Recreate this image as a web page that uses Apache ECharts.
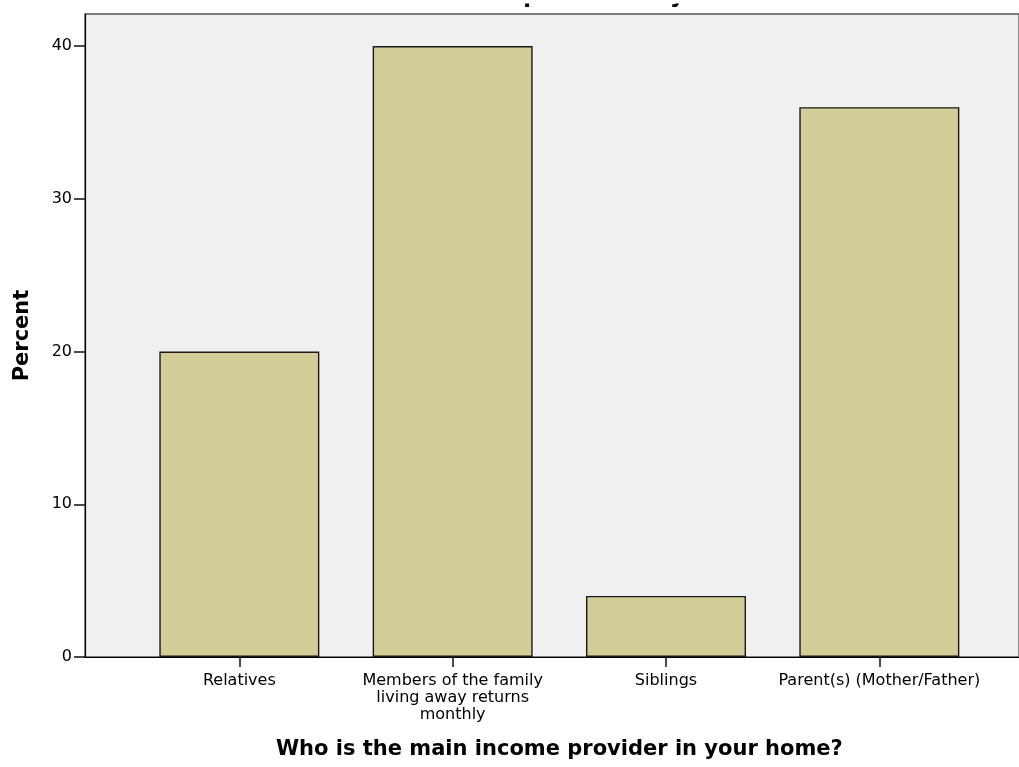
<!DOCTYPE html>
<html>
<head>
<meta charset="utf-8">
<script src="https://cdn.jsdelivr.net/npm/echarts@6/dist/echarts.min.js"></script>
<style>
html,body{margin:0;padding:0;background:#fff;}
#chart{width:1019px;height:767px;}
</style>
</head>
<body>
<div id="chart"></div>
<script>
const categories = ['Relatives', 'Members of the family\nliving away returns\nmonthly', 'Siblings', 'Parent(s) (Mother/Father)'];
const percentValues = [20, 40, 4, 36];
const yTicks = [0, 10, 20, 30, 40];
const chartTitle = 'Who is the main income provider in your home?';
const xAxisTitle = 'Who is the main income provider in your home?';
const yAxisTitle = 'Percent';

const FONT = 'DejaVu Sans';
const YMAX = 42.1;
const chart = echarts.init(document.getElementById('chart'), null, {renderer: 'canvas'});

chart.setOption({
  backgroundColor: '#ffffff',
  animation: false,
  title: {
    text: chartTitle,
    left: 206,
    top: -22,
    textStyle: {fontFamily: FONT, fontWeight: 'bold', fontSize: 22.5, color: '#000', lineHeight: 26}
  },
  graphic: [
    {type: 'rect', left: 0, top: 0, z: 100, shape: {width: 1019, height: 3.5}, style: {fill: '#ffffff'}}
  ],
  grid: [
    {left: 85, top: 14, right: -20, bottom: 110, show: true, backgroundColor: '#f0f0f0', borderColor: '#555', borderWidth: 1.3, containLabel: false},
    {left: 132.67, top: 14, right: 33, bottom: 110, containLabel: false}
  ],
  xAxis: [
    {
      gridIndex: 0, type: 'value', min: 0, max: 1,
      axisLine: {show: true, onZero: false, lineStyle: {color: '#000', width: 1.2}},
      axisTick: {show: false}, axisLabel: {show: false}, splitLine: {show: false}
    },
    {
      gridIndex: 1, type: 'category', data: categories,
      boundaryGap: true,
      axisLine: {show: false},
      axisTick: {show: true, alignWithLabel: true, length: 10, lineStyle: {color: '#111', width: 1.5}},
      axisLabel: {fontFamily: FONT, fontSize: 16, color: '#000', lineHeight: 17, margin: 15, interval: 0},
      name: xAxisTitle,
      nameLocation: 'middle',
      nameGap: 82,
      nameTextStyle: {fontFamily: FONT, fontWeight: 'bold', fontSize: 21, color: '#000'}
    }
  ],
  yAxis: [
    {
      gridIndex: 0, type: 'value', min: 0, max: YMAX,
      axisLine: {show: true, lineStyle: {color: '#000', width: 1.2}},
      axisTick: {show: true, length: 11, customValues: yTicks, lineStyle: {color: '#111', width: 1.5}},
      axisLabel: {customValues: yTicks, fontFamily: FONT, fontSize: 16, color: '#000', margin: 13},
      splitLine: {show: false},
      name: yAxisTitle,
      nameLocation: 'middle',
      nameGap: 52,
      nameTextStyle: {fontFamily: FONT, fontWeight: 'bold', fontSize: 21, color: '#000'}
    },
    {
      gridIndex: 1, type: 'value', min: 0, max: YMAX, show: false
    }
  ],
  series: [
    {
      type: 'bar',
      xAxisIndex: 1, yAxisIndex: 1,
      data: percentValues,
      barWidth: '75%',
      itemStyle: {color: '#d3ce97', borderColor: '#1a1a1a', borderWidth: 1.4}
    }
  ]
});
</script>
</body>
</html>
